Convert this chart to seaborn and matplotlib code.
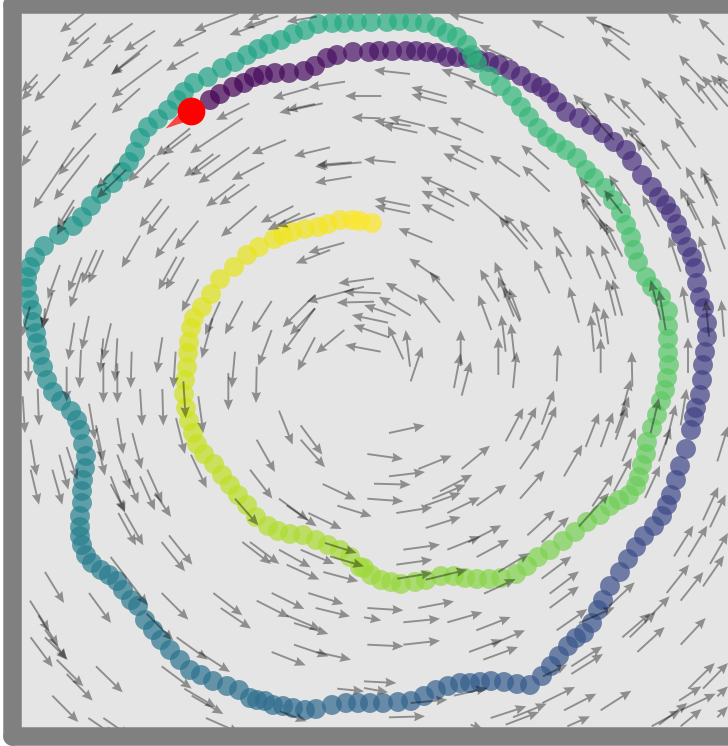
import numpy as np
import pandas as pd
import matplotlib
matplotlib.use("Agg")
import matplotlib.pyplot as plt
import seaborn as sns

path_x = [191,210,220,233,244,254,263,275,289,304,315,327,337,353,369,379,392,406,416,427,437,447,457,468,479,489,499,510,521,532,541,549,557,566,579,591,603,614,626,632,642,652,659,666,671,677,681,687,692,695,697,700,704,707,707,705,703,702,700,696,694,691,686,680,676,671,667,662,654,644,636,628,620,610,603,598,592,584,576,568,559,551,542,530,517,504,491,480,470,460,448,436,424,411,398,383,370,358,346,332,316,305,293,283,273,265,257,250,239,227,213,201,190,180,170,161,153,145,138,131,123,117,109,101,92,86,82,80,80,80,82,82,83,85,86,83,80,77,71,61,53,47,43,40,37,36,33,32,29,27,27,30,35,44,59,73,82,91,101,113,122,129,135,140,148,158,168,177,184,194,208,222,235,247,258,269,281,293,305,318,332,344,357,371,387,399,412,425,437,447,457,467,472,477,489,501,512,521,529,538,547,556,566,577,586,594,605,613,621,626,631,634,638,646,652,661,668,668,668,668,669,667,665,661,657,652,647,646,642,639,636,629,619,610,600,587,575,563,550,538,527,516,501,489,477,465,454,441,426,415,401,391,381,371,364,360,350,340,328,316,303,290,278,268,256,247,238,230,222,214,204,197,193,189,186,184,185,187,188,189,191,194,202,211,220,234,247,259,274,283,292,305,318,328,340,352,360,372]
path_y = [111,100,94,87,83,77,75,73,73,71,66,58,55,52,52,51,51,51,51,52,53,57,57,58,60,62,65,70,76,83,87,93,102,112,118,125,133,142,150,161,175,187,197,205,213,224,235,247,257,268,283,297,308,323,337,352,365,380,395,408,417,430,449,466,480,495,505,516,526,536,547,559,572,586,600,610,623,633,638,646,656,666,676,685,684,682,681,682,683,683,686,690,696,701,702,703,703,703,703,705,709,710,708,706,705,701,700,698,690,686,681,675,670,660,650,640,630,620,606,600,590,581,575,570,563,555,545,536,527,516,503,491,480,468,456,444,430,420,411,401,392,380,367,355,343,333,322,310,300,288,277,267,257,246,235,226,217,206,194,183,172,162,152,138,127,119,110,100,92,83,77,68,62,55,49,44,40,34,30,24,23,23,22,22,22,21,22,23,27,33,37,45,55,63,76,86,96,107,117,128,137,143,150,158,170,178,188,200,213,225,237,250,262,277,287,297,311,326,339,353,365,378,390,401,415,428,442,454,465,477,486,495,500,506,515,522,532,541,550,557,566,574,578,579,579,578,576,576,580,582,584,582,580,575,568,567,557,550,545,540,535,534,531,526,517,505,495,485,475,464,454,444,433,421,408,394,380,367,353,342,328,318,307,294,279,267,255,247,239,235,232,229,227,224,220,220,221,223]
path_order = np.arange(len(path_x))

start_x = [191]
start_y = [111]
heading_u = [-26]
heading_v = [17]

arrows_nw = [(252,40,180,97),(288,70,203,140),(398,70,308,133),(465,92,372,153),(267,113,185,186),(332,135,248,206),(442,135,335,222),(420,160,332,225),(485,180,335,292),(420,265,335,340),(595,157,498,212),(618,92,518,140),(715,40,582,92),(835,48,730,82),(800,65,688,105),(790,40,745,60),(950,50,860,65),(180,223,103,305),(113,223,65,275),(113,245,65,300),(288,310,212,392),(90,378,65,410),(113,422,65,500),(288,400,175,525),(222,443,100,625),(267,465,162,600),(222,600,170,685),(222,620,170,705),(360,490,290,565),(378,510,290,595),(465,465,385,545),(507,488,430,565),(570,385,468,468),(572,402,488,465),(640,462,552,530),(660,465,572,528),(748,442,595,550),(793,488,695,540),(858,420,755,462),(748,310,648,360),(728,355,570,460),(990,442,882,468),(1085,487,945,500),(1055,487,950,495),(1055,530,945,548),(1035,245,925,262),(925,265,818,295),(968,310,838,338),(945,312,860,330),(1144,288,1035,288),(1142,355,1055,352),(705,553,618,620),(748,553,658,615),(770,618,663,710),(880,618,782,668),(900,640,803,690),(945,640,830,680),(1033,728,925,758),(990,750,887,790),(485,597,418,683),(507,618,440,705),(530,685,465,775),(595,662,525,748),(420,707,365,803),(530,770,475,870),(552,772,497,868),(245,772,205,875),(290,750,245,850),(310,750,265,850),(180,795,143,897),(245,820,210,922),(157,880,125,985),(135,925,130,985),(90,920,65,1010),(595,838,545,935),(660,905,615,1005),(728,903,675,1003),(815,903,755,997),(638,955,605,1075),(945,925,845,1063),(945,925,870,1005),(945,885,848,982),(1033,990,948,1060),(945,1012,893,1112),(815,990,775,1097),(1122,835,1015,850),(1142,880,1030,875),(1122,905,1010,908),(1092,860,920,905),(1164,968,1055,945),(1167,1012,1060,975),(1142,1055,1035,1035),(223,968,205,1080),(267,948,245,1050),(333,970,308,1080),(310,1015,300,1119),(310,1090,310,1209),(352,1015,345,1145),(352,1090,352,1209),(395,1055,392,1164),(487,1012,470,1119),(527,1055,520,1164),(705,1055,695,1164),(685,1119,685,1231),(770,1100,768,1209),(200,1100,200,1205),(243,1050,238,1164),(85,1070,85,1145)]
arrows_ne = [(358,70,255,40),(600,113,503,60),(797,135,710,70),(780,100,665,50),(797,180,712,110),(950,70,910,40),(1080,135,1005,55),(1020,245,945,165),(1092,195,1058,160),(1020,310,947,225),(1060,330,995,245),(1092,320,1015,228),(1092,280,1040,225),(1092,265,1060,225),(950,355,880,270),(900,310,832,232),(842,375,768,295),(797,355,720,278),(995,442,932,352),(950,507,890,418),(885,507,815,420),(862,465,795,378),(840,440,772,380),(750,420,627,282),(700,350,650,300),(1018,595,965,500),(1060,618,1010,500),(1060,595,1018,520),(997,660,948,563),(1018,685,968,585),(885,680,835,585),(797,617,735,525),(710,618,645,530),(775,640,720,570),(730,690,650,575),(725,695,650,595),(755,750,705,655),(775,770,725,670),(710,837,667,735),(755,837,712,735),(622,770,567,678),(622,837,575,737),(557,880,510,780),(950,815,915,710),(1040,815,1005,708),(1083,748,1045,645),(645,968,615,860),(755,947,728,838),(775,947,745,838),(690,1055,680,945),(712,1010,690,905),(733,1033,718,925),(710,1119,710,1015),(905,990,885,870),(890,960,860,840),(972,968,955,858),(1035,1010,1025,900),(1080,1010,1072,900),(972,1119,972,1012),(805,1160,803,1055),(578,1144,582,1035),(468,965,418,860),(470,960,435,865),(450,950,402,830),(430,880,392,785),(405,905,348,808),(382,990,343,885),(490,748,405,650),(490,725,420,645),(430,670,315,572),(535,748,468,660),(270,662,172,612),(270,620,172,572),(315,618,218,563),(270,575,170,530),(138,618,32,597),(138,640,32,618),(205,727,103,685),(228,840,135,775),(270,903,197,815),(228,968,160,882),(160,903,65,848),(140,947,45,890),(95,947,0,915),(118,1078,72,978),(138,1100,125,990),(140,1144,175,1040),(290,1098,290,990),(270,1164,290,1060),(425,1055,412,945),(452,1078,440,970),(403,1125,403,1012),(447,1164,458,1055),(293,1187,320,1085),(138,222,30,210),(248,290,142,262),(248,310,142,283),(335,245,232,208),(400,288,300,243),(95,487,0,478),(358,398,258,353),(292,420,190,382),(183,378,75,352),(140,378,30,362),(160,398,55,375),(358,487,258,435),(337,508,238,460),(468,530,378,465),(555,508,472,435),(557,575,475,497),(445,180,345,135)]
arrows_sw = [(68,70,75,180),(113,48,117,158),(92,200,110,308),(92,290,117,395),(157,290,187,395),(178,245,205,350),(200,222,232,320),(267,92,285,200),(288,157,310,265),(290,200,315,308),(352,135,370,243),(397,180,425,288),(352,245,390,350),(375,290,415,392),(420,310,465,412),(442,290,487,390),(465,360,513,432),(332,310,375,420),(332,333,375,415),(355,420,408,517),(375,420,430,517),(507,487,577,575),(485,507,555,595),(420,48,427,158),(487,48,490,158),(528,135,555,243),(550,25,557,135),(595,70,610,180),(573,245,620,345),(837,113,878,215),(902,157,967,245),(770,200,825,297),(902,200,975,283),(750,290,817,377),(705,377,775,457),(837,377,925,442),(860,397,950,460),(925,420,1025,468),(968,333,1068,380),(1012,398,1115,430),(727,507,813,573),(750,507,838,573),(837,530,932,583),(902,530,1003,573),(860,575,958,620),(970,597,1075,625),(975,510,1070,540),(990,550,1092,580),(640,660,727,727),(662,705,753,767),(770,683,868,733),(815,660,913,708),(925,660,1030,693),(947,705,1050,730),(860,727,962,770),(882,750,985,783),(815,837,917,877),(882,815,985,850),(950,837,1053,860),(485,660,565,740),(267,660,333,750),(135,597,192,690),(90,683,148,775),(115,727,175,820),(135,770,200,860),(92,793,158,882),(135,793,203,860),(170,860,250,940),(200,903,278,983),(288,880,368,958),(157,968,235,1047),(265,1035,345,1090),(310,1035,390,1090),(332,552,443,697),(440,722,520,803),(530,793,623,860),(597,837,690,897),(485,880,575,947),(553,947,648,1003),(575,968,670,1023),(618,1035,720,1080),(840,1015,920,1045),(1012,947,1092,955)]
arrows_se = [(75,180,182,157),(10,243,117,258),(163,288,263,248),(293,288,378,218),(75,310,183,297),(30,332,140,335),(228,355,325,305),(205,377,305,335),(183,398,290,360),(10,377,118,385),(97,420,205,403),(250,420,348,373),(338,398,427,335),(185,465,290,432),(250,530,350,490),(313,508,412,457),(338,552,435,500),(118,530,228,515),(97,575,205,560),(100,617,205,600),(185,620,310,590),(360,662,455,618),(403,597,497,540),(425,205,478,105),(468,200,517,102),(533,155,570,52),(533,200,577,100),(468,288,530,198),(468,377,542,293),(490,487,572,412),(533,508,615,432),(533,617,622,550),(557,662,645,595),(557,705,645,640),(600,310,655,215),(665,222,705,120),(710,222,747,118),(755,200,790,100),(755,180,795,70),(770,130,800,20),(775,265,815,165),(885,265,920,165),(843,375,888,278),(750,355,803,255),(685,400,747,305),(645,460,735,360),(950,157,968,47),(1060,265,1092,160),(860,180,885,75),(905,215,935,95),(930,550,988,458),(973,552,1030,458),(1017,442,1063,342),(1038,463,1085,365),(1038,573,1092,480),(1017,640,1080,548),(908,660,975,575),(950,683,1018,597),(775,793,860,720),(797,793,875,717),(863,725,917,670),(820,837,902,762),(950,815,1025,735),(735,700,812,628),(578,772,670,708),(645,750,752,703),(622,880,715,820),(622,903,717,843),(537,910,610,875),(535,990,633,942),(600,1012,697,962),(710,1012,802,953),(380,1035,487,1000),(447,1033,548,992),(425,1055,525,1017),(610,1060,678,1030),(973,947,1052,870),(1017,947,1092,870),(945,983,1012,940),(885,1055,970,990),(863,1060,950,1012),(950,1060,1013,1008),(950,1012,1055,962),(337,772,440,732),(250,748,355,718),(163,705,270,685),(118,748,228,737),(10,705,118,712),(0,733,52,742),(315,837,415,800),(358,860,462,822),(383,815,483,772),(118,815,228,803),(10,815,118,820),(0,925,97,930),(270,968,370,945),(140,990,250,980),(75,1033,183,1030),(320,1055,358,1070),(0,945,72,958),(1060,970,1092,940),(1060,1033,1092,1000)]

def to_table(rows, ox, oy):
    a = np.array(rows, dtype=float) / 3
    return a[:, 0] + ox, a[:, 1] + oy, a[:, 2] - a[:, 0], a[:, 3] - a[:, 1]

parts = [to_table(arrows_nw, 0, 0), to_table(arrows_ne, 364, 0),
         to_table(arrows_sw, 0, 373), to_table(arrows_se, 364, 373)]
qx, qy, qu, qv = [np.concatenate(c) for c in zip(*parts)]

sns.set_style("white")
W, H = 728, 746
fig = plt.figure(figsize=(W / 100, H / 100), dpi=100, facecolor="white")
left, right, top, bottom = 12, 738, 4, 736
ax = fig.add_axes([left / W, 1 - bottom / H, (right - left) / W, (bottom - top) / H])
ax.set_facecolor("#e5e5e5")

ax.quiver(qx, qy, qu, qv, angles="xy", scale_units="xy", scale=1, units="xy",
          width=1.9, headwidth=5, headlength=5.8, headaxislength=5.2,
          color="black", alpha=0.38, zorder=3)

df = pd.DataFrame({"x": path_x, "y": path_y, "order": path_order})
sns.scatterplot(data=df, x="x", y="y", hue="order", palette="viridis", legend=False,
                s=205, alpha=0.7, linewidth=0, zorder=2, ax=ax)

ax.quiver(start_x, start_y, heading_u, heading_v, angles="xy", scale_units="xy", scale=1,
          units="xy", width=1, headwidth=16, headlength=31, headaxislength=31,
          color="red", alpha=0.7, zorder=4)
sns.scatterplot(x=start_x, y=start_y, color="red", s=400, linewidth=0, zorder=5, ax=ax)

ax.set_xlim(left, right)
ax.set_ylim(bottom, top)
ax.set_xticks([])
ax.set_yticks([])
ax.set_xlabel("")
ax.set_ylabel("")
for s in ax.spines.values():
    s.set_visible(True)
    s.set_color("#808080")
    s.set_linewidth(18.5 * 72 / 100)
    s.set_capstyle("round")
    s.set_zorder(6)

fig.savefig("out.png", dpi=100)
